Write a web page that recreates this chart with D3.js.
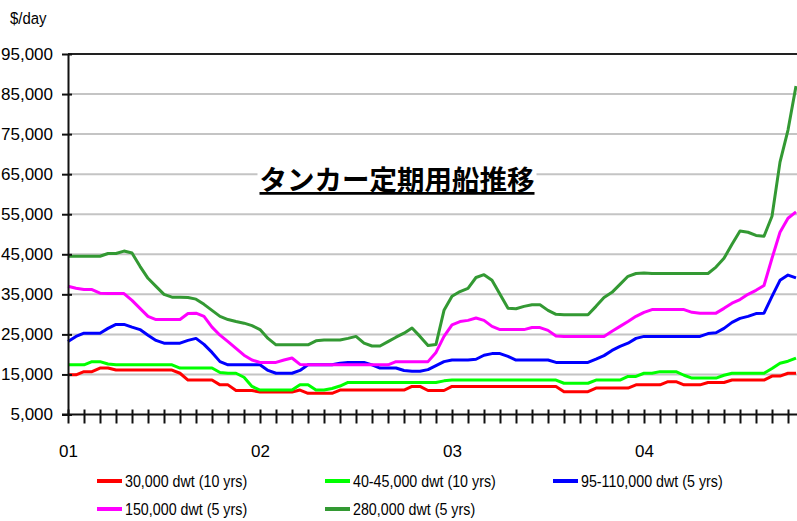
<!DOCTYPE html>
<html><head><meta charset="utf-8">
<script src="https://cdn.jsdelivr.net/npm/d3@7"></script>
<style>
body{margin:0;background:#fff;}
svg{display:block;}
text{font-family:"Liberation Sans Narrow","Arial Narrow","Liberation Sans",Arial,sans-serif;fill:#000;}
</style>
</head><body>
<svg id="chart" width="797" height="521"></svg>
<script>
// ---- data ----
const yearLabels = ["01", "02", "03", "04"];          // every 12 months from Jan 2001
const yTickValues = [5000, 15000, 25000, 35000, 45000, 55000, 65000, 75000, 85000, 95000];
const seriesNames = ["30,000 dwt (10 yrs)", "40-45,000 dwt (10 yrs)", "95-110,000 dwt (5 yrs)", "150,000 dwt (5 yrs)", "280,000 dwt (5 yrs)"];
const seriesColors = ["#ff0000", "#00ff00", "#0000ff", "#ff00ff", "#339933"];
// half-month periods from Jan 2001 (in months since Jan 2001)
const periods = d3.range(92).map(i => i / 2);

const dwt30k = [
  14900,14900,15700,15700,16600,16600,16100,16100,16100,16100,
  16100,16100,16100,16100,15300,13600,13600,13600,13600,12400,
  12400,11000,11000,11000,10600,10600,10600,10600,10600,11100,
  10300,10300,10300,10300,11100,11100,11100,11100,11100,11100,
  11100,11100,11100,12000,12000,11000,11000,11000,12000,12000,
  12000,12000,12000,12000,12000,12000,12000,12000,12000,12000,
  12000,12000,10700,10700,10700,10700,11600,11600,11600,11600,
  11600,12400,12400,12400,12400,13200,13200,12400,12400,12400,
  13000,13000,13000,13600,13600,13600,13600,13600,14600,14600,
  15300,15300];
const dwt40k = [
  17400,17400,17400,18200,18200,17600,17400,17400,17400,17400,
  17400,17400,17400,17400,16600,16600,16600,16600,16600,15500,
  15300,15300,14300,12000,11100,11100,11100,11100,11100,12400,
  12400,11100,11100,11500,12100,13000,13000,13000,13000,13000,
  13000,13000,13000,13000,13000,13000,13000,13400,13600,13600,
  13600,13600,13600,13600,13600,13600,13600,13600,13600,13600,
  13600,13600,12800,12800,12800,12800,13600,13600,13600,13600,
  14500,14500,15300,15300,15700,15700,15700,14800,14100,14100,
  14100,14100,14800,15300,15300,15300,15300,15300,16500,17800,
  18300,19100];
const dwt95k = [
  23200,24500,25300,25300,25300,26500,27500,27500,26800,26200,
  24800,23500,22800,22800,22800,23500,24000,22500,20500,18200,
  17400,17400,17400,17400,17400,16000,15300,15300,15300,16000,
  17400,17400,17400,17400,17800,18000,18000,18000,17400,16600,
  16600,16600,16000,15800,15800,16200,17200,18200,18600,18600,
  18600,18800,19800,20200,20200,19500,18600,18600,18600,18600,
  18600,18000,18000,18000,18000,18000,18800,19700,21000,22000,
  22800,24000,24500,24500,24500,24500,24500,24500,24500,24500,
  25200,25400,26500,28000,29000,29500,30200,30300,34500,38500,
  39800,39100];
const dwt150k = [
  37000,36500,36200,36200,35300,35200,35200,35200,33500,31500,
  29500,28700,28700,28700,28700,30200,30300,29500,26800,24800,
  23200,21500,19800,18600,18000,18000,18000,18600,19100,17500,
  17400,17400,17400,17400,17400,17400,17400,17400,17400,17400,
  17400,18200,18200,18200,18200,18200,20500,24500,27400,28200,
  28500,29100,28500,27000,26200,26200,26200,26200,26700,26700,
  26000,24600,24500,24500,24500,24500,24500,24500,25800,27000,
  28200,29500,30500,31200,31200,31200,31200,31200,30500,30300,
  30300,30300,31500,32800,33700,35000,36000,37200,44000,50500,
  54000,55600];
const dwt280k = [
  44500,44500,44500,44500,44500,45200,45200,45800,45300,42000,
  39000,37000,35000,34300,34300,34200,33800,32500,31000,29500,
  28700,28200,27800,27200,26200,24000,22400,22400,22400,22400,
  22400,23400,23600,23600,23600,24000,24500,22800,22100,22100,
  23200,24300,25300,26600,24500,22200,22500,31000,34500,35700,
  36500,39200,39900,38500,35000,31500,31400,32000,32400,32400,
  31000,30000,29900,29900,29900,29900,32000,34200,35500,37500,
  39500,40200,40300,40200,40200,40200,40200,40200,40200,40200,
  40200,41800,44000,47500,50800,50500,49700,49500,54500,68000,
  76000,87000];
const seriesValues = [dwt30k, dwt40k, dwt95k, dwt150k, dwt280k];
const titleText = "タンカー定期用船推移";
const unitText = "$/day";

// ---- layout ----
const svg = d3.select("#chart");
const plotLeft = 68, plotRight = 797, plotTop = 54, plotBottom = 414.5;
const x = d3.scaleLinear().domain([0, 45.5625]).range([plotLeft, plotRight]);
const y = d3.scaleLinear().domain([5000, 95000]).range([plotBottom, plotTop]);

// gridlines
svg.append("g").selectAll("line")
  .data(yTickValues.filter(v => v > 5000 && v < 95000))
  .join("line")
  .attr("x1", plotLeft).attr("x2", plotRight)
  .attr("y1", d => y(d)).attr("y2", d => y(d))
  .attr("stroke", "#c4c4c4").attr("stroke-width", 2);

// top border
svg.append("line").attr("x1", plotLeft).attr("x2", plotRight)
  .attr("y1", y(95000)).attr("y2", y(95000))
  .attr("stroke", "#222").attr("stroke-width", 2);

// title with white backing
const titleG = svg.append("g");
const titleRect = titleG.append("rect").attr("fill", "#fff");
const title = titleG.append("text")
  .attr("x", 397).attr("y", 190)
  .attr("text-anchor", "middle")
  .style("font-family", "'Noto Sans CJK JP','Noto Sans CJK SC',sans-serif")
  .style("font-size", "27.5px").style("font-weight", "bold")
  .style("text-decoration", "underline")
  .text(titleText);
const tb = title.node().getBBox();
titleRect.attr("x", tb.x - 2).attr("y", tb.y).attr("width", tb.width + 4).attr("height", tb.height + 4);

// lines
const line = d3.line().x((d, i) => x(periods[i])).y(d => y(d));
svg.append("g").selectAll("path")
  .data(seriesValues)
  .join("path")
  .attr("d", d => line(d))
  .attr("fill", "none")
  .attr("stroke", (d, i) => seriesColors[i])
  .attr("stroke-width", 3)
  .attr("stroke-linejoin", "round");

// y axis
const yAxis = svg.append("g").attr("transform", `translate(${plotLeft},0)`)
  .call(d3.axisLeft(y).tickValues(yTickValues).tickFormat(d3.format(",")).tickSizeOuter(0));
yAxis.select(".domain").attr("stroke", "#111").attr("stroke-width", 2);
yAxis.selectAll(".tick line").attr("x1", 4).attr("x2", -6).attr("stroke", "#111").attr("stroke-width", 2);
yAxis.selectAll(".tick text").attr("x", -15).style("font-size", "17px").attr("fill", "#000");

// x axis
const monthTicks = d3.range(46);
const xAxis = svg.append("g").attr("transform", `translate(0,${plotBottom})`)
  .call(d3.axisBottom(x).tickValues(monthTicks)
    .tickFormat(d => d % 12 === 0 ? yearLabels[d / 12] : "").tickSizeOuter(0));
xAxis.select(".domain").remove();
xAxis.append("line").attr("x1", plotLeft - 6).attr("x2", plotRight).attr("stroke", "#111").attr("stroke-width", 2);
xAxis.selectAll(".tick line").attr("y1", -5).attr("y2", 9).attr("stroke", "#111").attr("stroke-width", 2);
xAxis.selectAll(".tick text").attr("y", 30).style("font-size", "17px").attr("fill", "#000");

// unit label
svg.append("text").attr("transform", "translate(10,24) scale(0.88,1)").style("font-size", "17px").text(unitText);

// legend
const legendPos = [[97, 481], [325, 481], [553, 481], [97, 509], [325, 509]];
const lg = svg.append("g").selectAll("g").data(seriesNames).join("g")
  .attr("transform", (d, i) => `translate(${legendPos[i][0]},${legendPos[i][1]})`);
lg.append("line").attr("x1", 0).attr("x2", 25).attr("y1", 0).attr("y2", 0)
  .attr("stroke", (d, i) => seriesColors[i]).attr("stroke-width", 4);
lg.append("text").attr("transform", "translate(28,6) scale(0.84,1)").style("font-size", "17px").text(d => d);
</script>
</body></html>
